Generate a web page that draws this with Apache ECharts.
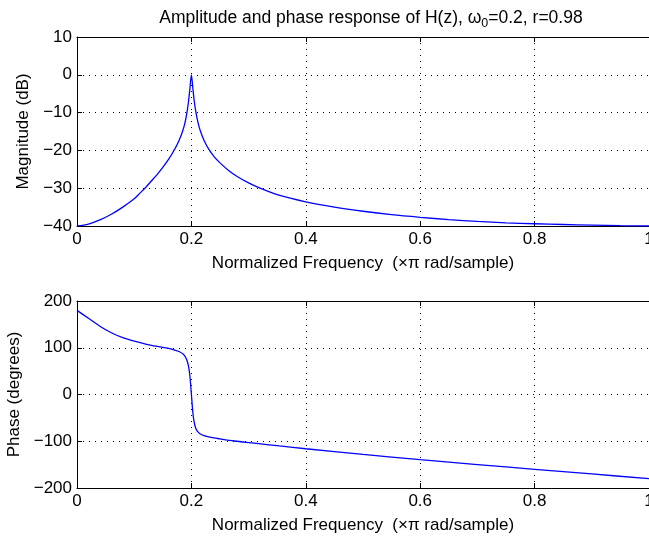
<!DOCTYPE html>
<html>
<head>
<meta charset="utf-8">
<script src="https://cdn.jsdelivr.net/npm/echarts@6/dist/echarts.min.js"></script>
<style>
html,body{margin:0;padding:0;background:#fff;}
#chart{width:649px;height:541px;}
</style>
</head>
<body>
<div id="chart"></div>
<script>
// ---- data ----
const titleMain = 'Amplitude and phase response of H(z), ω';
const titleSub = '0';
const titleTail = '=0.2, r=0.98';
const xAxisName = 'Normalized Frequency  (\u00d7\u03c0 rad/sample)';
const magAxisName = 'Magnitude (dB)';
const phaseAxisName = 'Phase (degrees)';

const xTicks = [0, 0.2, 0.4, 0.6, 0.8, 1];
const magTicks = [-40, -30, -20, -10, 0, 10];
const phaseTicks = [-200, -100, 0, 100, 200];

const magFreq = [0, 0.02, 0.04, 0.06, 0.08, 0.1, 0.11, 0.12, 0.13, 0.14, 0.15, 0.16, 0.17, 0.178, 0.184, 0.188, 0.192, 0.195, 0.1975, 0.2,
  0.2025, 0.205, 0.208, 0.212, 0.216, 0.222, 0.23, 0.24, 0.25, 0.265, 0.28, 0.3, 0.32, 0.35, 0.4, 0.45, 0.5, 0.55, 0.6, 0.65, 0.7, 0.75, 0.8, 0.85, 0.9, 0.95, 1];
const magDb = [-40, -39.5, -38.4, -36.9, -35.0, -32.8, -31.3, -29.8, -28.1, -26.4, -24.5, -22.4, -19.9, -17.5, -15.2, -13.2, -10.2, -7.0, -3.5, 0,
  -3.5, -7.0, -10.0, -12.9, -15.0, -17.3, -19.6, -21.7, -23.3, -25.3, -26.9, -28.6, -30.0, -31.7, -33.6, -35.0, -36.1, -37.0, -37.7, -38.3, -38.8, -39.15, -39.4, -39.6, -39.78, -39.92, -40];

const phaseFreq = [0, 0.02, 0.04, 0.06, 0.08, 0.1, 0.12, 0.14, 0.16, 0.172, 0.18, 0.186, 0.19, 0.193, 0.1955, 0.1975, 0.2,
  0.2025, 0.2045, 0.207, 0.21, 0.215, 0.222, 0.232, 0.25, 0.275, 0.31, 0.354, 0.4, 0.5, 0.6, 0.7, 0.8, 0.9, 1];
const phaseDeg = [180, 163, 146, 132, 121.5, 114, 108, 103, 98.5, 94.5, 91, 86, 79, 70, 57, 38, 0,
  -38, -57, -70, -78, -84, -88, -91.3, -95, -99.5, -104, -110, -116, -128, -139.5, -150, -160, -170, -180];

// ---- chart ----
const FONT = 'Liberation Sans';
const FS = 17;
const minus = v => (v < 0 ? '\u2212' + Math.abs(v) : String(v));
const pairs = (xs, ys) => xs.map((x, i) => [x, ys[i]]);

const gridLine = {show: true, lineStyle: {color: '#000', width: 1, type: [1, 5]}};
const axisLineStyle = {show: true, onZero: false, lineStyle: {color: '#000', width: 1}};
const tickIn = {show: true, inside: true, length: 5, lineStyle: {color: '#000', width: 1}};

function bottomX(gridIndex) {
  return {
    type: 'value', gridIndex, position: 'bottom',
    min: xTicks[0], max: xTicks[xTicks.length - 1], interval: 0.2,
    axisLine: axisLineStyle, axisTick: tickIn,
    axisLabel: {show: true, margin: 5, color: '#000', fontFamily: FONT, fontSize: FS,
      formatter: v => String(+v.toFixed(1))},
    splitLine: gridLine,
    name: xAxisName, nameLocation: 'middle', nameGap: 29,
    nameTextStyle: {color: '#000', fontFamily: FONT, fontSize: FS}
  };
}
function topX(gridIndex) {
  return {
    type: 'value', gridIndex, position: 'top',
    min: xTicks[0], max: xTicks[xTicks.length - 1], interval: 0.2,
    axisLine: axisLineStyle, axisTick: tickIn,
    axisLabel: {show: false}, splitLine: {show: false}
  };
}
function leftY(gridIndex, ticks, step, name, gap) {
  return {
    type: 'value', gridIndex, position: 'left',
    min: ticks[0], max: ticks[ticks.length - 1], interval: step,
    axisLine: axisLineStyle, axisTick: tickIn,
    axisLabel: {show: true, margin: 5, color: '#000', fontFamily: FONT, fontSize: FS, formatter: minus},
    splitLine: gridLine,
    name, nameLocation: 'middle', nameGap: gap, nameRotate: 90,
    nameTextStyle: {color: '#000', fontFamily: FONT, fontSize: FS}
  };
}

const chart = echarts.init(document.getElementById('chart'), null, {renderer: 'canvas'});
chart.setOption({
  backgroundColor: '#fff',
  animation: false,
  title: {
    text: '{m|' + titleMain + '}{s|' + titleSub + '}{m|' + titleTail + '}',
    left: 366, top: 3, textAlign: 'center',
    textStyle: {
      fontWeight: 'normal',
      rich: {
        m: {fontFamily: FONT, fontSize: 17.5, fontWeight: 'normal', color: '#000', lineHeight: 20},
        s: {fontFamily: FONT, fontSize: 12.5, fontWeight: 'normal', color: '#000', lineHeight: 20, padding: [11, 0, 0, 0]}
      }
    }
  },
  grid: [
    {left: 77, top: 37, width: 572, height: 189, outerBoundsMode: 'none', containLabel: false},
    {left: 77, top: 301, width: 572, height: 187, outerBoundsMode: 'none', containLabel: false}
  ],
  xAxis: [bottomX(0), topX(0), bottomX(1), topX(1)],
  yAxis: [
    leftY(0, magTicks, 10, magAxisName, 37),
    leftY(1, phaseTicks, 100, phaseAxisName, 52)
  ],
  series: [
    {type: 'line', xAxisIndex: 0, yAxisIndex: 0, data: pairs(magFreq, magDb), showSymbol: false,
      smooth: 0.3, lineStyle: {color: '#0000ff', width: 1.3}, clip: true},
    {type: 'line', xAxisIndex: 2, yAxisIndex: 1, data: pairs(phaseFreq, phaseDeg), showSymbol: false,
      smooth: 0.3, lineStyle: {color: '#0000ff', width: 1.3}, clip: true}
  ]
});
</script>
</body>
</html>
